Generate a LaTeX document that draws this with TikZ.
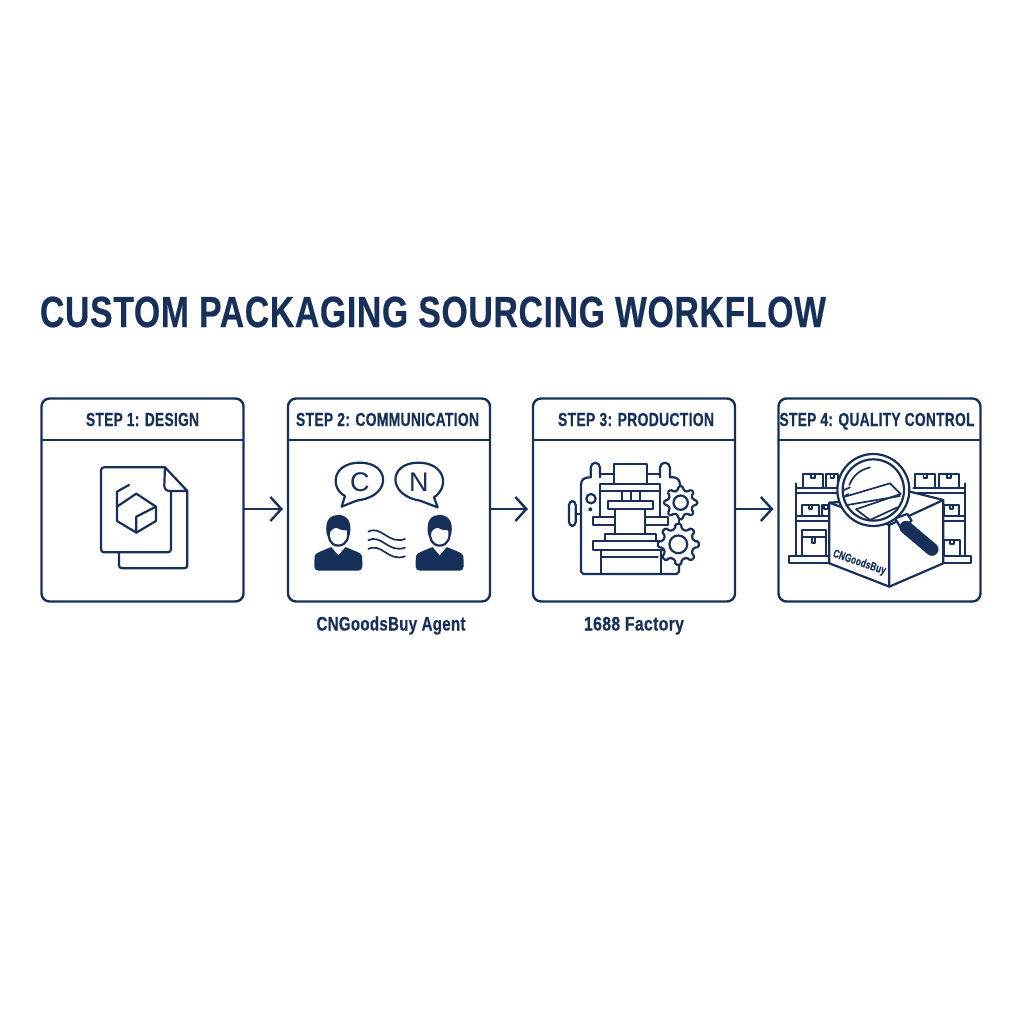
\documentclass[tikz,border=0pt]{standalone}
\usepackage{graphicx}
\usepackage{fontspec}
\setmainfont[BoldFeatures={LetterSpace=2,FakeBold=0.5}]{Liberation Sans}
\usetikzlibrary{arrows.meta}
\definecolor{navy}{HTML}{16305A}
\newcommand{\fitbox}[3]{\resizebox{#1pt}{\height}{\fontsize{\fpeval{#2/0.688}pt}{\fpeval{1.2*#2/0.688}pt}\selectfont\bfseries #3}}
\newcommand{\gearshape}[3]{%
  \begin{scope}[shift={(#1,#2)}]
    \filldraw[iconline,fill=white,rounded corners=1.5pt]
      (-12:{0.76*#3}) \foreach \a in {0,45,...,315}{
        -- (\a-12:{0.76*#3}) -- (\a-8:#3) -- (\a+8:#3) -- (\a+12:{0.76*#3}) } -- cycle;
    \draw[iconline] (0,0) circle ({0.43*#3});
  \end{scope}}
\newcommand{\person}[1]{%
  \begin{scope}[shift={(#1,0)}]
    \fill[navy,rounded corners=4pt] (-72,542) -- (-72,510) .. controls (-70,488) and (-45,482) .. (-22,470) -- (22,470) .. controls (45,482) and (70,488) .. (72,510) -- (72,542) -- cycle;
    \path[fill=white,draw=white,line width=.6pt] (-22,468) -- (0,494) -- (22,468) -- cycle;
    \fill[navy] (-35,432) .. controls (-42,385) and (-20,375) .. (0,375) .. controls (22,375) and (42,390) .. (35,432) -- (28,445) -- (-28,445) -- cycle;
    \filldraw[iconline,fill=white] (-28,425) .. controls (-22,415) and (-12,410) .. (-4,410) .. controls (8,418) and (18,418) .. (28,418) .. controls (34,440) and (26,466) .. (0,467) .. controls (-26,466) and (-32,440) .. (-28,425) -- cycle;
  \end{scope}}
\tikzset{
  x=1pt,y=-1pt,
  stepbox/.style={draw=navy,line width=2.4pt,rounded corners=8pt,minimum width=202pt,minimum height=203pt,inner sep=0pt,outer sep=0pt},
  rule/.style={navy,line width=2.4pt},
  flow/.style={navy,line width=2.4pt,shorten >=5pt,-{Straight Barb[length=11pt,width=24pt,line width=2.4pt]}},
  label/.style={text=navy,inner sep=0pt,anchor=base},
  iconline/.style={draw=navy,line width=2.2pt,line join=round,line cap=round},
  thinline/.style={draw=navy,line width=1.7pt,line join=round,line cap=round},
}
\begin{document}
\begin{tikzpicture}
\useasboundingbox (0,0) rectangle (1024,1024);
\fill[white] (0,0) rectangle (1024,1024);
\node[label] (title) at (433,327) {\fitbox{786}{30}{CUSTOM PACKAGING SOURCING WORKFLOW}};

\node[stepbox] (b1) at (142.5,500) {};
\node[stepbox] (b2) at (389,500) {};
\node[stepbox] (b3) at (634,500) {};
\node[stepbox] (b4) at (879.5,500) {};
\coordinate (hl) at (0,440);
\coordinate (ar) at (0,509);
\foreach \b in {b1,b2,b3,b4}{\draw[rule] (\b.west |- hl) -- (\b.east |- hl);}
\draw[flow] (b1.east |- ar) -- (b2.west |- ar);
\draw[flow] (b2.east |- ar) -- (b3.west |- ar);
\draw[flow] (b3.east |- ar) -- (b4.west |- ar);

\node[label] (h1) at (142.5,426) {\fitbox{113}{13}{STEP 1: DESIGN}};
\node[label] (h2) at (387.5,426) {\fitbox{183}{13}{STEP 2: COMMUNICATION}};
\node[label] (h3) at (636,426) {\fitbox{156}{13}{STEP 3: PRODUCTION}};
\node[label] (h4) at (877,426) {\fitbox{195}{13}{STEP 4: QUALITY CONTROL}};
\node[label] (c2) at (391,630.5) {\fitbox{149}{13.5}{CNGoodsBuy Agent}};
\node[label] (c3) at (634,630.5) {\fitbox{100}{13.5}{1688 Factory}};

% --- design icon
\begin{scope}[shift={(30,390)},x=0.3333pt,y=-0.3333pt]
  \draw[iconline,rounded corners=3pt] (472,303) -- (472,535) -- (267,535) -- (267,487);
  \draw[iconline,rounded corners=3pt] (405,232) -- (213,232) -- (213,487) -- (423,487) -- (423,303);
  \draw[iconline] (405,232) -- (472,303) -- (420,303) .. controls (408,303) and (403,296) .. (403,285) -- (405,232);
  \draw[iconline] (319,311) -- (378,350) -- (378,393) -- (319,428) -- (261,393) -- (261,350) -- cycle;
  \draw[iconline] (319,428) -- (319,380) -- (378,350);
  \draw[iconline] (261,350) -- (261,305) -- (297,285);
\end{scope}

% --- communication icon
\begin{scope}[shift={(280,390)},x=0.3333pt,y=-0.3333pt]
  \draw[iconline] (195,318) .. controls (150,295) and (155,218) .. (240,218) .. controls (330,218) and (335,315) .. (240,330) .. controls (232,331) and (226,333) .. (222,335) -- (185,350) -- cycle;
  \draw[iconline] (462,322) .. controls (510,290) and (495,218) .. (415,218) .. controls (325,218) and (320,315) .. (420,332) -- (473,352) -- cycle;
  \node[text=navy,inner sep=0pt,anchor=base] (cl) at (240,305) {\fontsize{27}{32}\selectfont C};
  \node[text=navy,inner sep=0pt,anchor=base] (nl) at (417,305) {\fontsize{27}{32}\selectfont N};
  \person{175}
  \person{479}
  \foreach \d in {0,26,52}{
    \draw[thinline] (265,425+\d) .. controls (305,405+\d) and (325,465+\d) .. (375,447+\d);
  }
\end{scope}

% --- production icon
\begin{scope}[shift={(525,390)},x=0.3333pt,y=-0.3333pt]
  \draw[iconline,rounded corners=5pt] (197,262) -- (197,218) -- (225,218) -- (225,262);
  \draw[iconline,rounded corners=5pt] (405,262) -- (405,218) -- (435,218) -- (435,262);
  \draw[iconline] (225,252) -- (268,252) (365,252) -- (405,252);
  \draw[iconline] (268,282) -- (268,222) -- (365,222) -- (365,282);
  \draw[iconline] (225,282) rectangle (405,302);
  \draw[iconline] (197,262) .. controls (175,262) and (168,270) .. (168,285) -- (168,545) -- (175,552) -- (455,552) -- (462,545) -- (462,515);
  \draw[iconline] (435,262) -- (445,262) .. controls (458,262) and (465,272) .. (465,285);
  \draw[iconline] (225,302) -- (225,380) (405,302) -- (405,380);
  \draw[iconline] (228,480) -- (228,552) (408,480) -- (408,552);
  \draw[iconline] (292,305) -- (292,332) (318,305) -- (318,332) (345,305) -- (345,332);
  \draw[iconline] (248,332) rectangle (385,358);
  \draw[iconline] (270,358) -- (270,432) (360,358) -- (360,432);
  \draw[iconline] (270,380) -- (205,380) -- (205,405) -- (270,405) (360,380) -- (430,380) -- (430,405) -- (360,405);
  \draw[iconline] (240,452) -- (240,432) -- (392,432) -- (392,452);
  \draw[iconline] (205,452) rectangle (415,480);
  \draw[iconline] (232,502) -- (398,502);
  \draw[iconline,rounded corners=4pt] (132,333) rectangle (152,408);
  \draw[iconline] (152,372) -- (168,372);
  \draw[iconline] (198,326) circle (14);
  \fill[navy] (196,358) circle (6);
  \gearshape{467}{338}{50}
  \draw[iconline] (463,385) -- (463,405);
  \gearshape{460}{463}{62}
\end{scope}

% --- quality control icon
\begin{scope}[shift={(770,390)},x=0.3333pt,y=-0.3333pt]
  \draw[thinline] (78,280) -- (78,498) (585,280) -- (585,498);
  \draw[thinline] (58,498) rectangle (603,520);
  \draw[thinline] (78,295) -- (210,295) (78,310) -- (210,310) (430,295) -- (585,295) (430,310) -- (585,310);
  \draw[thinline] (78,378) -- (180,378) (78,392) -- (180,392) (520,378) -- (585,378) (520,392) -- (585,392);
  \foreach \l/\t/\r/\bb in {100/253/158/295,168/253/205/295,436/253/495/295,507/253/567/295,95/345/148/378,155/345/180/378,522/345/568/378,522/450/570/498}{
    \draw[thinline] (\l,\bb) -- (\l,\t) -- (\r,\t) -- (\r,\bb);
    \draw[thinline] ({(\l+\r)/2-5},\t) -- ({(\l+\r)/2-5},\t+12) -- ({(\l+\r)/2+5},\t+12) -- ({(\l+\r)/2+5},\t);
  }
  \draw[thinline] (95,420) rectangle (168,498);
  \draw[thinline] (95,440) -- (168,440);
  \draw[thinline] (126,440) -- (126,458) -- (136,458) -- (136,440);
  % big carton
  \filldraw[iconline,fill=white] (178,338) -- (178,520) -- (358,590) -- (520,520) -- (520,330) -- (420,305) -- (300,330) -- cycle;
  \draw[iconline] (178,338) -- (358,405) -- (358,590) (358,405) -- (520,330);
  \node[text=navy,inner sep=0pt,rotate=-19] (brand) at (268,518) {\fitbox{55}{8}{CNGoodsBuy}};
  % magnifier
  \draw[iconline,fill=white] (375,385) -- (412,372) -- (425,392) -- (395,418) -- cycle;
  \draw[navy,line width=13pt,line cap=round] (408,412) -- (486,478);
  \filldraw[iconline,fill=white] (310,300) circle (108);
  \draw[iconline] (310,300) circle (92);
  \draw[thinline] (225,320) -- (360,280) -- (392,312) -- (258,358);
  \draw[thinline] (232,345) -- (390,318);
  \draw[thinline] (258,358) -- (300,390) -- (382,352);
  \draw[thinline] (238,285) .. controls (250,255) and (270,240) .. (300,232);
  \draw[thinline] (222,300) -- (240,292) (225,318) -- (235,312);
\end{scope}
\end{tikzpicture}
\end{document}
